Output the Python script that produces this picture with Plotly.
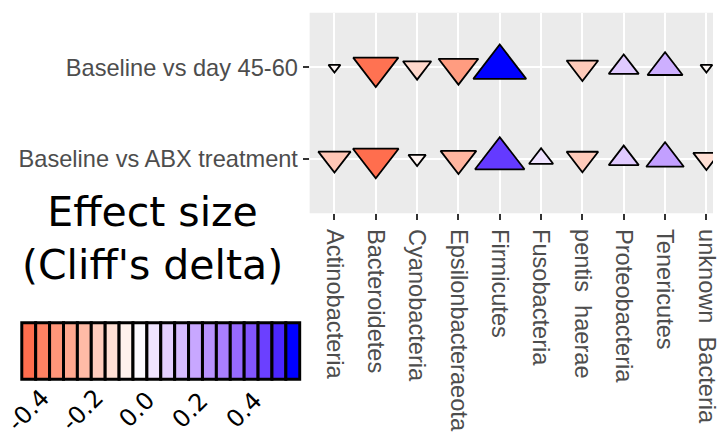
import numpy as np
import plotly.graph_objects as go

# ---------------- data ----------------
taxa = ["Actinobacteria", "Bacteroidetes", "Cyanobacteria", "Epsilonbacteraeota",
        "Firmicutes", "Fusobacteria", "pentis\u00a0\u00a0haerae", "Proteobacteria",
        "Tenericutes", "unknown\u00a0\u00a0Bacteria"]
comparisons = ["Baseline vs ABX treatment", "Baseline vs day 45-60"]

delta_day45_60 = [-0.02, -0.39, -0.11, -0.28, 0.58, None, -0.15, 0.13, 0.20, -0.02]
delta_abx = [-0.16, -0.40, -0.03, -0.21, 0.49, 0.07, -0.15, 0.13, 0.24, -0.09]

legend_ticks = [-0.4, -0.2, 0.0, 0.2, 0.4]
legend_tick_labels = ["-0.4", "-0.2", "0.0", "0.2", "0.4"]
n_legend_bins = 20

# ---------------- colour scale (Lab interpolation like ggplot gradient2) ----------------
LOW_COL = (255, 110, 78)
MID_COL = (255, 255, 255)
HIGH_COL = (0, 0, 255)


def _lin(c):
    c = c / 255.0
    return c / 12.92 if c <= 0.04045 else ((c + 0.055) / 1.055) ** 2.4


def _gam(c):
    c = 12.92 * c if c <= 0.0031308 else 1.055 * c ** (1 / 2.4) - 0.055
    return min(255, max(0, round(c * 255)))


WHITE = (0.95047, 1.0, 1.08883)


def rgb2lab(rgb):
    r, g, b = [_lin(c) for c in rgb]
    X = 0.4124 * r + 0.3576 * g + 0.1805 * b
    Y = 0.2126 * r + 0.7152 * g + 0.0722 * b
    Z = 0.0193 * r + 0.1192 * g + 0.9505 * b
    d = 6 / 29

    def f(t):
        return t ** (1 / 3) if t > d ** 3 else t / (3 * d * d) + 4 / 29
    fx, fy, fz = f(X / WHITE[0]), f(Y / WHITE[1]), f(Z / WHITE[2])
    return (116 * fy - 16, 500 * (fx - fy), 200 * (fy - fz))


def lab2rgb(lab):
    L, a, b = lab
    fy = (L + 16) / 116
    fx = fy + a / 500
    fz = fy - b / 200
    d = 6 / 29

    def fi(t):
        return t ** 3 if t > d else 3 * d * d * (t - 4 / 29)
    X, Y, Z = WHITE[0] * fi(fx), WHITE[1] * fi(fy), WHITE[2] * fi(fz)
    r = 3.2406 * X - 1.5372 * Y - 0.4986 * Z
    g = -0.9689 * X + 1.8758 * Y + 0.0415 * Z
    bb = 0.0557 * X - 0.2040 * Y + 1.0570 * Z
    return (_gam(max(0, r)), _gam(max(0, g)), _gam(max(0, bb)))


all_vals = [v for v in delta_day45_60 + delta_abx if v is not None]
cmin, cmax = min(all_vals), max(all_vals)

lab_low, lab_mid, lab_high = rgb2lab(LOW_COL), rgb2lab(MID_COL), rgb2lab(HIGH_COL)
t_mid = (0 - cmin) / (cmax - cmin)
stops = sorted(set(list(np.linspace(0, 1, 61)) + [t_mid]))
colorscale = []
for t in stops:
    v = cmin + t * (cmax - cmin)
    if v < 0:
        fr = v / cmin
        lab = tuple(lab_mid[i] + fr * (lab_low[i] - lab_mid[i]) for i in range(3))
    else:
        fr = v / cmax
        lab = tuple(lab_mid[i] + fr * (lab_high[i] - lab_mid[i]) for i in range(3))
    rgb = lab2rgb(lab)
    colorscale.append([float(t), "rgb(%d,%d,%d)" % rgb])

# ---------------- size scale (area scale like ggplot scale_size) ----------------
SIZE_MIN_PX, SIZE_MAX_PX = 11, 49
abs_vals = [abs(v) for v in all_vals]
amin, amax = min(abs_vals), max(abs_vals)


def size_of(v):
    w = SIZE_MIN_PX + (SIZE_MAX_PX - SIZE_MIN_PX) * np.sqrt((abs(v) - amin) / (amax - amin))
    return float(w / 1.07)


xs, ys, vs = [], [], []
for comp, series in [(comparisons[1], delta_day45_60), (comparisons[0], delta_abx)]:
    for t, v in zip(taxa, series):
        if v is None:
            continue
        xs.append(t)
        ys.append(comp)
        vs.append(v)

fig = go.Figure()
fig.add_trace(go.Scatter(
    x=xs, y=ys, mode="markers",
    marker=dict(
        symbol=["triangle-up" if v > 0 else "triangle-down" for v in vs],
        size=[size_of(v) for v in vs], opacity=1,
        color=vs, colorscale=colorscale, cmin=cmin, cmax=cmax, showscale=False,
        line=dict(color="black", width=1.8),
    ),
    showlegend=False, hoverinfo="skip",
))

# ---------------- stepped colour legend ----------------
step = (cmax - cmin) / (n_legend_bins - 1)
bin_vals = [cmin + i * step for i in range(n_legend_bins)]
fig.add_trace(go.Bar(
    x=bin_vals, y=[1] * n_legend_bins, width=step, xaxis="x2", yaxis="y2",
    marker=dict(color=bin_vals, colorscale=colorscale, cmin=cmin, cmax=cmax,
                line=dict(color="black", width=3)),
    showlegend=False, hoverinfo="skip",
))

W, H = 720, 439
bar_l, bar_r, bar_t, bar_b = 22, 302.7, 322.7, 379.3
px_per_unit = (bar_r - bar_l) / (n_legend_bins * step)
padx = 2 / px_per_unit
pady = 2 / (bar_b - bar_t)

font_axis = dict(family="Liberation Sans, Arial", size=23.6, color="#4D4D4D")

fig.update_layout(
    width=W, height=H, autosize=False,
    margin=dict(l=0, r=0, t=0, b=0),
    paper_bgcolor="white", plot_bgcolor="white",
    xaxis=dict(
        type="category", categoryorder="array", categoryarray=taxa,
        range=[-0.6, 9.16], domain=[312.7 / W, 1.0],
        showgrid=True, gridcolor="white", gridwidth=2, zeroline=False, showline=False,
        ticks="outside", ticklen=6, tickwidth=2, tickcolor="#333333",
        tickangle=90, tickfont=font_axis, ticklabelstandoff=4, fixedrange=True,
    ),
    yaxis=dict(
        type="category", categoryorder="array", categoryarray=comparisons,
        range=[-0.6, 1.6], domain=[(H - 213.3) / H, (H - 12.7) / H],
        showgrid=True, gridcolor="white", gridwidth=2, zeroline=False, showline=False,
        ticks="outside", ticklen=6, tickwidth=2, tickcolor="#333333",
        tickfont=font_axis, fixedrange=True,
    ),
    xaxis2=dict(
        domain=[(bar_l - 2) / W, (bar_r + 2) / W],
        range=[cmin - step / 2 - padx, cmax + step / 2 + padx],
        visible=False, anchor="y2", fixedrange=True,
    ),
    yaxis2=dict(
        domain=[(H - bar_b - 2) / H, (H - bar_t + 2) / H],
        range=[-pady, 1 + pady], visible=False, anchor="x2", fixedrange=True,
    ),
    shapes=[dict(type="rect", xref="x domain", yref="y domain", x0=0, x1=1, y0=0, y1=1,
                 fillcolor="#EBEBEB", line=dict(width=0), layer="below")],
)

annotations = [dict(
    text="Effect size<br>(Cliff's delta)", xref="paper", yref="paper",
    x=153.5 / W, y=(H - 238) / H, xanchor="center", yanchor="middle",
    showarrow=False, align="center",
    font=dict(family="DejaVu Sans", size=41, color="black"),
)]
for tv, tl in zip(legend_ticks, legend_tick_labels):
    annotations.append(dict(
        text=tl, x=tv, xref="x2", y=(H - 410) / H, yref="paper",
        xanchor="center", yanchor="middle", textangle=-45, showarrow=False,
        borderpad=0, font=dict(family="DejaVu Sans", size=24, color="black"),
    ))
fig.update_layout(annotations=annotations)

fig.write_html("out.html", config={"displayModeBar": False},
               post_script="document.body.style.margin='0';document.body.style.overflow='hidden';")
